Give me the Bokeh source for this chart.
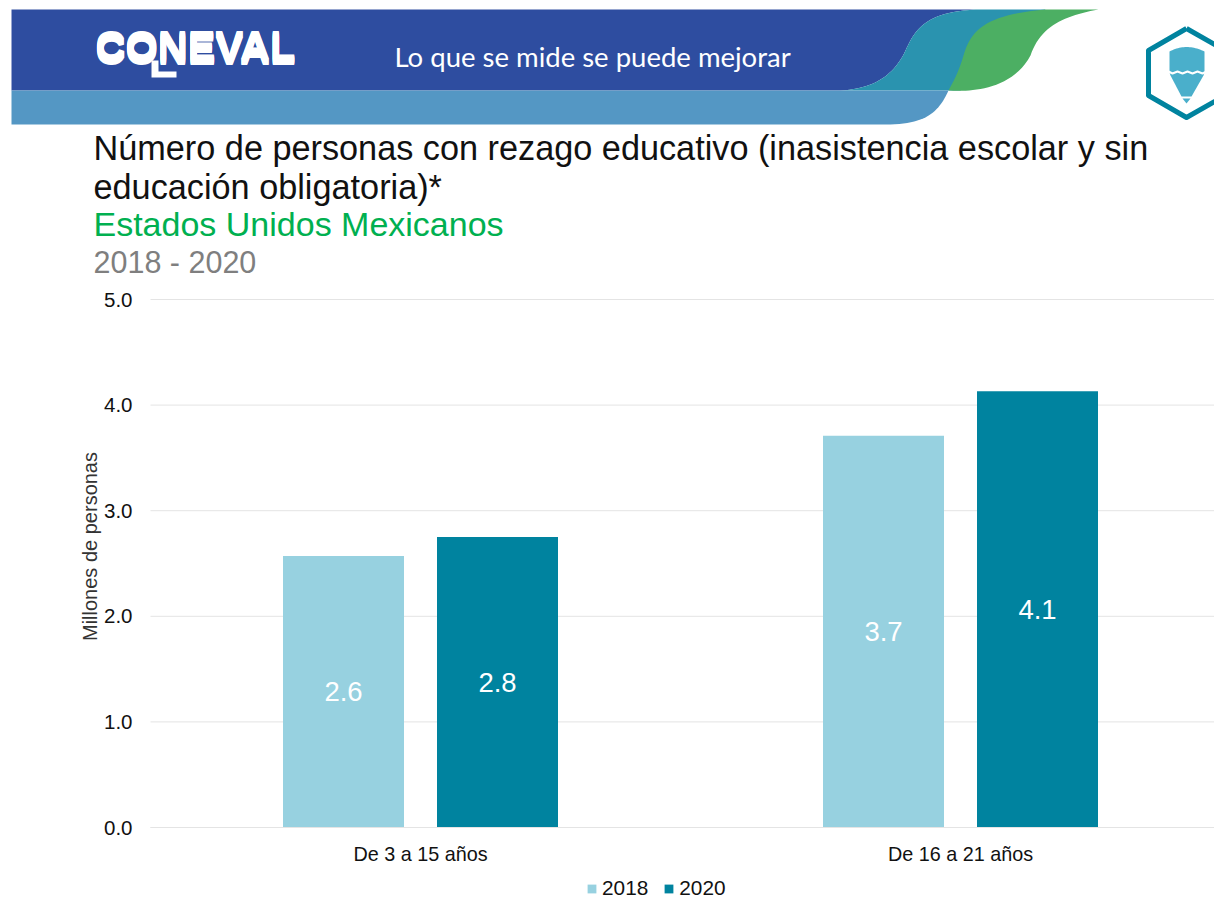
import math
from bokeh.plotting import figure
from bokeh.models import Range1d, FixedTicker, Legend, LegendItem, NumeralTickFormatter, ColumnDataSource
from bokeh.core.properties import value
from bokeh.embed import file_html
from bokeh.resources import INLINE

# ---- data ----
categories = ["De 3 a 15 años", "De 16 a 21 años"]
series_names = ["2018", "2020"]
values_2018 = [2.57, 3.71]
values_2020 = [2.75, 4.13]
labels_2018 = ["2.6", "3.7"]
labels_2020 = ["2.8", "4.1"]
y_ticks = [0, 1, 2, 3, 4, 5]

title_lines = ["Número de personas con rezago educativo (inasistencia escolar y sin",
               "educación obligatoria)*"]
subtitle = "Estados Unidos Mexicanos"
period = "2018 - 2020"
slogan = "Lo que se mide se puede mejorar"
logo = "CONEVAL"
y_title = "Millones de personas"

C_2018 = "#97D1E0"
C_2020 = "#00839F"
GRID = "#E4E4E4"
FONT = "Liberation Sans"
W, H = 1214, 898


def bez(p0, p1, p2, p3, n=24):
    xs, ys = [], []
    for i in range(n + 1):
        t = i / n
        a, b, c, d = (1-t)**3, 3*(1-t)**2*t, 3*(1-t)*t**2, t**3
        xs.append(a*p0[0] + b*p1[0] + c*p2[0] + d*p3[0])
        ys.append(a*p0[1] + b*p1[1] + c*p2[1] + d*p3[1])
    return xs, ys


def chain(*segs):
    xs, ys = [], []
    for s in segs:
        a, b = bez(*s)
        xs += a
        ys += b
    return xs, ys


# The frame fills the page; the data ranges are extended so 0..5 lands on the plot area.
PLOT_LEFT, PLOT_BOTTOM, PLOT_TOP = 150, 827, 299
PX_PER_CAT = 540
PX_PER_UNIT = (PLOT_BOTTOM - PLOT_TOP) / 5
x_end = (W - PLOT_LEFT) / PX_PER_CAT
centers = [0.5, 1.5]
BAR_W = 121 / PX_PER_CAT
OFFSET = 77 / PX_PER_CAT

p = figure(width=W, height=H,
           x_range=Range1d(-PLOT_LEFT / PX_PER_CAT, x_end),
           y_range=Range1d(-(H - PLOT_BOTTOM) / PX_PER_UNIT, PLOT_BOTTOM / PX_PER_UNIT),
           output_backend="svg", toolbar_location=None, outline_line_color=None, min_border=0)
p.extra_x_ranges = {"px": Range1d(0, W)}
p.extra_y_ranges = {"px": Range1d(H, 0)}
PX = dict(x_range_name="px", y_range_name="px")

# ---- header ----
BLUE, TEAL, GREEN, SKY = "#2E4DA0", "#2A93AF", "#4CAF63", "#5497C4"
tx, ty = chain(((975, 9), (925, 12), (915, 28), (905, 50)), ((905, 50), (895, 72), (875, 90), (835, 90)))
p.patch([11] + tx + [11], [9] + ty + [90], color=BLUE, line_width=0, **PX)
p.patch(tx + [960, 1045], ty + [90, 9], color=TEAL, line_width=0, **PX)
lx, ly = chain(((1045, 9), (985, 14), (970, 30), (963, 55)), ((963, 55), (957, 75), (952, 82), (948, 90)))
rx, ry = chain(((948, 90), (965, 91), (1010, 92), (1030, 55)), ((1030, 55), (1040, 25), (1065, 15), (1098, 9)))
p.patch(lx + rx, ly + ry, color=GREEN, line_width=0, **PX)
bx, by = chain(((948, 90), (938, 112), (925, 124), (885, 124)))
p.patch([11, 948] + bx + [11], [90, 90] + by + [124], color=SKY, line_width=0, **PX)

# hexagon badge
p.line([1186, 1225, 1225, 1186, 1148, 1148, 1186], [28, 50, 95, 117, 95, 50, 28], line_color=C_2020,
       line_width=5, line_join="round", **PX)
px, py = chain(((1169, 51), (1180, 45), (1192, 45), (1204, 51)))
p.patch(px + [1204, 1203, 1191, 1181, 1170, 1169], py + [72, 75, 96, 96, 75, 72], color="#4AAFCB", line_width=0, **PX)
p.patch([1182, 1190, 1186], [98, 98, 103], color="#4AAFCB", line_width=0, **PX)
p.line([1168, 1172, 1177, 1182, 1187, 1192, 1197, 1202, 1206], [71, 73, 71, 73, 71, 73, 71, 73, 71],
       line_color="white", line_width=2, **PX)

# logo: overprinted to get the tall, heavy block look
for dy in (0, -1, -2, -3, -4, -5, -6):
    p.text([95], [50 + dy], text=[logo], text_font=value(FONT), text_font_style="bold",
           text_font_size="41.5px", text_color="white", text_align="left", text_baseline="alphabetic", **PX)
p.patch([151, 158, 158, 176, 176, 151], [60, 60, 71, 71, 77, 77], color="white", line_width=0, **PX)

p.text([394], [56], text=[slogan], text_font=value("Lato"), text_font_size="27.5px", text_color="white",
       text_align="left", text_baseline="alphabetic", **PX)

for y, txt, col, size in [(147, title_lines[0], "#111111", "34.25px"), (186, title_lines[1], "#111111", "34.25px"),
                          (223, subtitle, "#00B050", "34px"), (261, period, "#7F7F7F", "30.5px")]:
    p.text([93], [y], text=[txt], text_font=value(FONT), text_font_size=size, text_color=col,
           text_align="left", text_baseline="alphabetic", **PX)

# ---- chart ----
p.xgrid.visible = False
p.ygrid.visible = False
p.segment(x0=[0] * len(y_ticks), x1=[x_end] * len(y_ticks), y0=y_ticks, y1=y_ticks, line_color=GRID, line_width=1)

s18 = ColumnDataSource(dict(x=[c - OFFSET for c in centers], top=values_2018, mid=[v / 2 for v in values_2018], lab=labels_2018))
s20 = ColumnDataSource(dict(x=[c + OFFSET for c in centers], top=values_2020, mid=[v / 2 for v in values_2020], lab=labels_2020))
r18 = p.vbar(x="x", top="top", width=BAR_W, bottom=0, source=s18, color=C_2018, line_width=0)
r20 = p.vbar(x="x", top="top", width=BAR_W, bottom=0, source=s20, color=C_2020, line_width=0)
for s in (s18, s20):
    p.text(x="x", y="mid", text="lab", source=s, text_color="white", text_font=value(FONT), text_font_size="27.5px",
           text_align="center", text_baseline="middle")

p.yaxis.fixed_location = 0
p.yaxis.bounds = (0, 5)
p.yaxis.ticker = FixedTicker(ticks=y_ticks)
p.yaxis.formatter = NumeralTickFormatter(format="0.0")
p.yaxis.axis_line_color = None
p.yaxis.major_tick_line_color = None
p.yaxis.minor_tick_line_color = None
p.yaxis.major_label_text_font = FONT
p.yaxis.major_label_text_font_size = "20.5px"
p.yaxis.major_label_text_color = "#111111"
p.yaxis.major_label_standoff = 12

p.text([89], [546], text=[y_title], angle=math.pi / 2, text_font=value(FONT), text_font_size="20px",
       text_color="#333333", text_align="center", text_baseline="middle", **PX)

p.xaxis.fixed_location = 0
p.xaxis.bounds = (0, x_end)
p.xaxis.ticker = FixedTicker(ticks=centers)
p.xaxis.major_label_overrides = dict(zip(centers, categories))
p.xaxis.axis_line_color = GRID
p.xaxis.major_tick_line_color = None
p.xaxis.minor_tick_line_color = None
p.xaxis.major_label_text_font = FONT
p.xaxis.major_label_text_font_size = "19.8px"
p.xaxis.major_label_text_color = "#111111"
p.xaxis.major_label_standoff = 9

legend = Legend(items=[LegendItem(label=series_names[0], renderers=[r18]),
                       LegendItem(label=series_names[1], renderers=[r20])],
                orientation="horizontal", location=(586, -2), padding=0, margin=0, spacing=15,
                glyph_width=11, glyph_height=11, label_standoff=5, label_text_font=FONT,
                label_text_font_size="20.8px", label_text_color="#111111",
                background_fill_alpha=0, border_line_color=None)
p.add_layout(legend)

open("out.html", "w").write(file_html(p, INLINE))
